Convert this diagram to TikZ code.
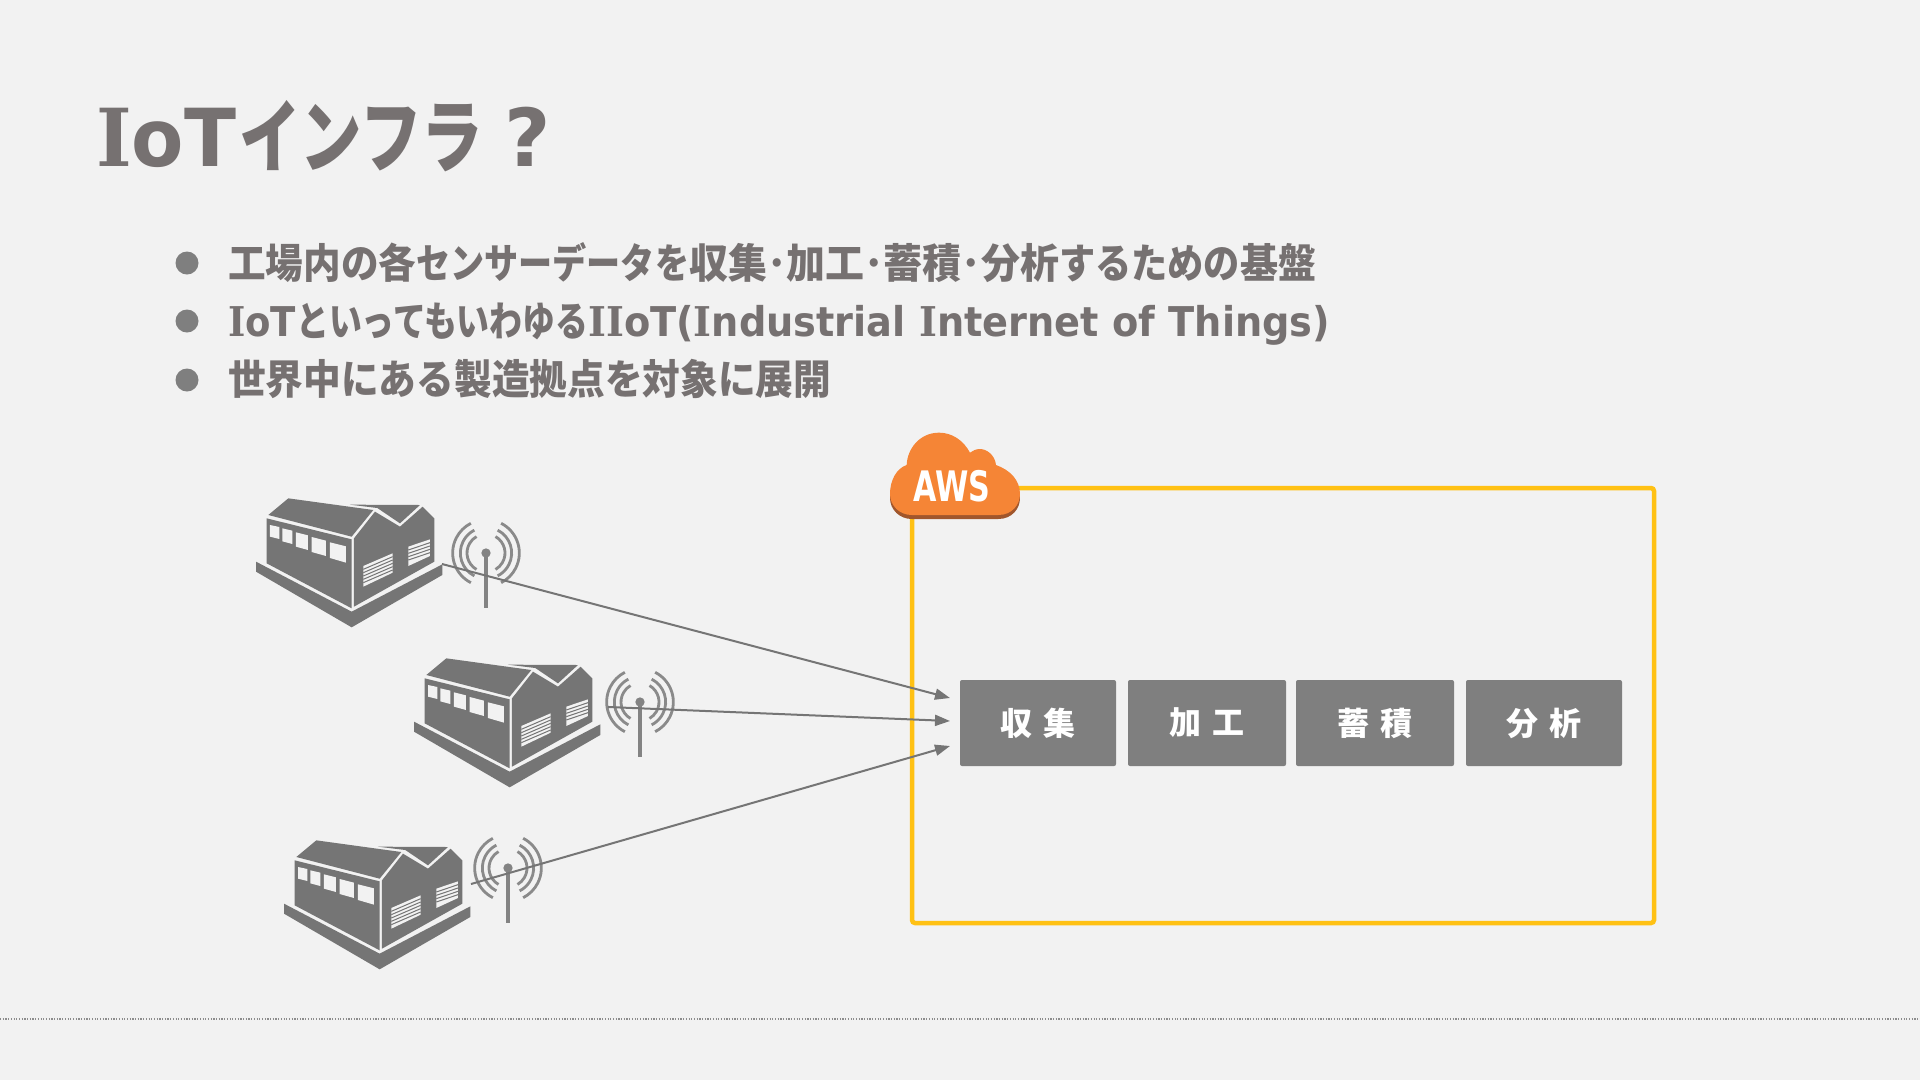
\documentclass[tikz,border=0pt]{standalone}
\usepackage{fontspec}
\usetikzlibrary{arrows.meta}
\setmainfont{DejaVu Sans}
\newfontfamily\jp{Noto Sans CJK JP}
\newfontfamily\lat{DejaVu Sans}
\newfontfamily\serifI{DejaVu Serif}
\definecolor{bgc}{HTML}{F2F2F2}
\definecolor{txtc}{HTML}{767171}
\definecolor{boxc}{HTML}{7F7F7F}
\definecolor{facc}{HTML}{757575}
\definecolor{yel}{HTML}{FFC114}
\definecolor{awso}{HTML}{F58536}
\definecolor{awsd}{HTML}{A0562C}
\newcommand{\II}{{\serifI\bfseries I}}
\newcommand{\fitw}[2]{\resizebox{#1pt}{\height}{#2}}
\newcommand{\cloudpath}{(125,285) -- (385,285) .. controls (425,285) and (450,255) .. (450,222) .. controls (450,180) and (420,150) .. (378,135) .. controls (375,105) and (350,87) .. (330,87) .. controls (318,87) and (308,92) .. (300,98) .. controls (280,60) and (245,38) .. (207,38) .. controls (150,38) and (112,85) .. (110,135) .. controls (80,145) and (60,180) .. (60,222) .. controls (60,258) and (90,285) .. (125,285) -- cycle}
\tikzset{
  titletxt/.style={anchor=base west,inner sep=0pt,text=txtc,font=\bfseries\fontsize{80}{90}\selectfont},
  linetxt/.style={anchor=base west,inner sep=0pt,text=txtc,font=\bfseries\fontsize{41}{46}\selectfont},
  stage/.style={fill=boxc,rounded corners=2pt,inner sep=0pt,text=white,font=\jp\bfseries\fontsize{32}{36}\selectfont},
  arrowline/.style={draw=facc,line width=2pt,-{Triangle[length=15pt,width=11pt]}},
  bulletdot/.style={circle,fill=boxc,minimum size=23pt,inner sep=0pt},
  factory/.pic={
    \begin{scope}[x=.3333pt,y=-.3333pt]
      \fill[facc] (48,245) -- (335,395) -- (607,253) -- (607,285) -- (335,442) -- (48,275) -- cycle;
      \fill[facc] (80,115) -- (335,178) -- (335,385) -- (80,250) -- cycle;
      \fill[facc] (85,105) -- (145,55) -- (400,90) -- (335,170) -- cycle;
      \fill[facc] (342,175) -- (405,95) -- (480,140) -- (548,80) -- (583,115) -- (583,245) -- (342,380) -- cycle;
      \fill[facc] (330,74) -- (540,75) -- (480,130) -- (412,84) -- cycle;
      \fill[bgc] (90,135) -- (118,141) -- (118,177) -- (90,170) -- cycle;
      \fill[bgc] (127,145) -- (157,152) -- (157,192) -- (127,184) -- cycle;
      \fill[bgc] (168,157) -- (204,166) -- (204,210) -- (168,200) -- cycle;
      \fill[bgc] (215,171) -- (258,182) -- (258,228) -- (215,216) -- cycle;
      \fill[bgc] (270,187) -- (318,199) -- (318,248) -- (270,234) -- cycle;
      \fill[bgc] (370,258) -- (458,220) -- (458,278) -- (370,320) -- cycle;
      \fill[bgc] (505,200) -- (570,178) -- (570,228) -- (505,258) -- cycle;
      \draw[facc,line width=1pt] (370,268) -- (458,230) (370,278) -- (458,240) (370,288) -- (458,250) (370,298) -- (458,260) (370,308) -- (458,270);
      \draw[facc,line width=1pt] (505,210) -- (570,188) (505,220) -- (570,198) (505,230) -- (570,208) (505,240) -- (570,218);
    \end{scope}
  },
  antenna/.pic={
    \begin{scope}[x=.3333pt,y=-.3333pt]
      \fill[facc!90] (0,0) circle (14);
      \draw[facc!90,line width=4.2pt] (0,0) -- (0,165);
      \foreach \rr/\aa in {100/63,77/63,57/60}{
        \draw[facc!85,line width=2.8pt] (180-\aa:\rr) arc[start angle=180-\aa,end angle=180+\aa,radius=\rr];
        \draw[facc!85,line width=2.8pt] (-\aa:\rr) arc[start angle=-\aa,end angle=\aa,radius=\rr];
      }
    \end{scope}
  }
}
\begin{document}
\begin{tikzpicture}[x=1pt,y=-1pt]
\useasboundingbox (0,0) rectangle (1920,1080);
\fill[bgc] (0,0) rectangle (1920,1080);

% title
\node[titletxt] (title) at (96,166) {\fitw{140}{\II oT}\hspace{3pt}\fitw{244}{\jp インフラ}\hspace{21pt}?};

% bullets
\node[bulletdot] (b1) at (187,263) {};
\node[bulletdot] (b2) at (187,321) {};
\node[bulletdot] (b3) at (187,380) {};
\node[linetxt] (l1) at (228,278) {\jp\fitw{188}{工場内の各}\fitw{273}{センサーデータを}\fitw{370}{収集･加工･蓄積･分析}\fitw{181}{するための}\fitw{76}{基盤}};
\node[linetxt] (l2) at (228,336) {\fitw{68}{\II oT}\fitw{292}{\jp といってもいわゆる}\fitw{742}{\lat\II\II oT(\II ndustrial \II nternet of Things)}};
\node[linetxt] (l3) at (228,394) {\fitw{603}{\jp 世界中にある製造拠点を対象に展開}};

% AWS frame
\node[draw=yel,line width=4.5pt,rounded corners=3pt,minimum width=742pt,minimum height=435pt,inner sep=0pt] (frame) at (1283,705.5) {};

% cloud
\begin{scope}[shift={(870,420)},x=.3333pt,y=-.3333pt]
  \fill[awsd] [yshift=-4pt] \cloudpath;
  \fill[awso] \cloudpath;
  \node[text=white,inner sep=0pt,xscale=.72] (aws) at (246,200) {\lat\bfseries\fontsize{42}{46}\selectfont AWS};
\end{scope}

% stages
\node[stage,minimum width=156pt,minimum height=86pt] (s1) at (1038,723) {収\hspace{11pt}集};
\node[stage,minimum width=158pt,minimum height=86pt] (s2) at (1207,723) {加\hspace{11pt}工};
\node[stage,minimum width=158pt,minimum height=86pt] (s3) at (1375,723) {蓄\hspace{11pt}積};
\node[stage,minimum width=156pt,minimum height=86pt] (s4) at (1544,723) {分\hspace{11pt}析};

% factories and antennas
\pic (f1) at (240,480) {factory};
\pic (f2) at (398,640) {factory};
\pic (f3) at (268,822) {factory};
\pic (a1) at (486,553) {antenna};
\pic (a2) at (640,702) {antenna};
\pic (a3) at (508,868) {antenna};

% connector ends
\coordinate (from1) at (442,564);
\coordinate (from2) at (608,707);
\coordinate (from3) at (471,884);
\coordinate (to1) at (950,698);
\coordinate (to2) at (950,721);
\coordinate (to3) at (950,746);
\draw[arrowline] (from1) -- (to1);
\draw[arrowline] (from2) -- (to2);
\draw[arrowline] (from3) -- (to3);

% footer
\coordinate (footl) at (0,1019);
\coordinate (footr) at (1920,1019);
\draw[draw=black!45,line width=1.2pt,dash pattern=on 1.2pt off 1.5pt] (footl) -- (footr);
\end{tikzpicture}
\end{document}
